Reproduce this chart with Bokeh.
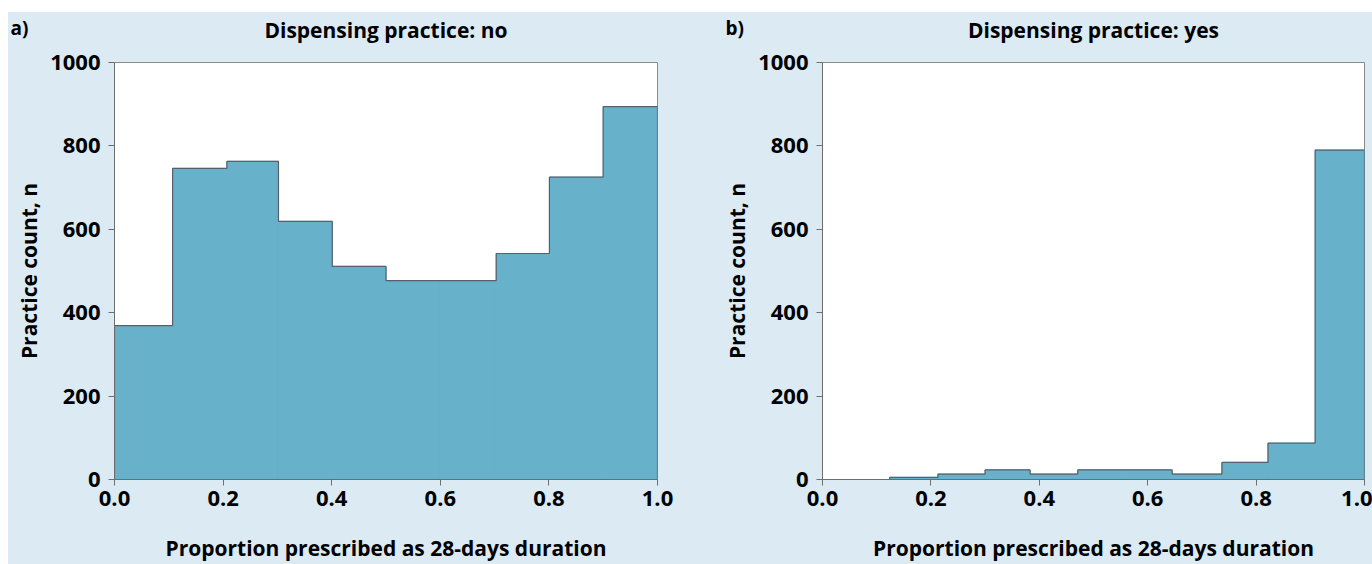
from bokeh.plotting import figure
from bokeh.layouts import row, column
from bokeh.models import Range1d, FixedTicker, NumeralTickFormatter, LinearAxis, Spacer
from bokeh.embed import file_html
from bokeh.resources import INLINE

# ---------------- data ----------------
x_ticks = [0.0, 0.2, 0.4, 0.6, 0.8, 1.0]
y_ticks = [0, 200, 400, 600, 800, 1000]

edges_no = [0.0, 0.107, 0.207, 0.302, 0.401, 0.5, 0.6, 0.703, 0.801, 0.9, 1.0]
counts_no = [369, 746, 763, 619, 511, 477, 477, 542, 725, 894]

edges_yes = [0.124, 0.213, 0.300, 0.383, 0.471, 0.558, 0.645, 0.737, 0.822, 0.909, 1.0]
counts_yes = [5, 13, 23, 13, 23, 23, 13, 41, 87, 790]

titles = ["Dispensing practice: no", "Dispensing practice: yes"]
panel_tags = ["a)", "b)"]
x_label = "Proportion prescribed as 28-days duration"
y_label = "Practice count, n"

# ---------------- style ----------------
BG = "#dbeaf3"
BAR = "#67b1cb"
EDGE = "#56616b"
AXIS = "#6e6e6e"
FONT = "Open Sans"
H = 552


def step_outline(edges, counts):
    xs = [edges[0]]
    ys = [0]
    for i, c in enumerate(counts):
        xs += [edges[i], edges[i + 1]]
        ys += [c, c]
    xs.append(edges[-1])
    ys.append(0)
    return xs, ys


def make_panel(edges, counts, title, tag, width, b_left, b_right, tag_dx):
    p = figure(width=width, height=H, output_backend="svg", toolbar_location=None,
               x_range=Range1d(0, 1), y_range=Range1d(0, 1000),
               min_border_left=b_left, min_border_right=b_right,
               min_border_top=49, min_border_bottom=83)
    p.background_fill_color = "white"
    p.border_fill_color = BG
    p.outline_line_color = "#8a8a8a"
    p.outline_line_width = 1
    p.xgrid.visible = False
    p.ygrid.visible = False

    # panel tag (outer title row)
    p.title.text = tag
    p.title.align = "left"
    p.title.offset = tag_dx
    p.title.standoff = -56
    p.title.text_font = FONT
    p.title.text_font_size = "19px"
    p.title.text_font_style = "bold"
    p.title.text_color = "black"

    # main heading as the label of a tick-less top axis
    top = LinearAxis(ticker=FixedTicker(ticks=[]), axis_label=title,
                     axis_line_color=None, major_tick_line_color=None,
                     minor_tick_line_color=None, major_tick_out=0, major_tick_in=0,
                     minor_tick_out=0, minor_tick_in=0, major_label_standoff=0,
                     axis_label_standoff=19, axis_label_text_font=FONT,
                     axis_label_text_font_size="21px",
                     axis_label_text_font_style="bold",
                     axis_label_text_color="black")
    p.add_layout(top, "above")

    p.quad(left=edges[:-1], right=edges[1:], bottom=0, top=counts,
           fill_color=BAR, line_color=BAR, line_width=1)
    xs, ys = step_outline(edges, counts)
    p.line(xs, ys, line_color=EDGE, line_width=1.2)

    xax = p.below[0]
    yax = p.left[0]
    for ax in (xax, yax):
        ax.axis_line_color = AXIS
        ax.major_tick_line_color = AXIS
        ax.major_tick_out = 6
        ax.major_tick_in = 0
        ax.minor_tick_line_color = None
        ax.major_label_text_font = FONT
        ax.major_label_text_font_size = "22px"
        ax.major_label_text_font_style = "bold"
        ax.major_label_text_color = "black"
        ax.axis_label_text_font = FONT
        ax.axis_label_text_font_size = "21px"
        ax.axis_label_text_font_style = "bold"
        ax.axis_label_text_color = "black"
    xax.ticker = FixedTicker(ticks=x_ticks)
    xax.formatter = NumeralTickFormatter(format="0.0")
    xax.axis_label = x_label
    xax.major_label_standoff = 5
    xax.axis_label_standoff = 25
    yax.ticker = FixedTicker(ticks=y_ticks)
    yax.axis_label = y_label
    yax.major_label_standoff = 8
    yax.axis_label_standoff = 4
    return p


pa = make_panel(edges_no, counts_no, titles[0], panel_tags[0], 700, 106, 51, -104)
pb = make_panel(edges_yes, counts_yes, titles[1], panel_tags[1], 664, 114, 8, -97)

panels = row(pa, pb, spacing=0, styles={"background-color": BG})
layout = column(Spacer(height=12),
                row(Spacer(width=8), panels, spacing=0),
                spacing=0)
open("out.html", "w").write(file_html(layout, INLINE))
